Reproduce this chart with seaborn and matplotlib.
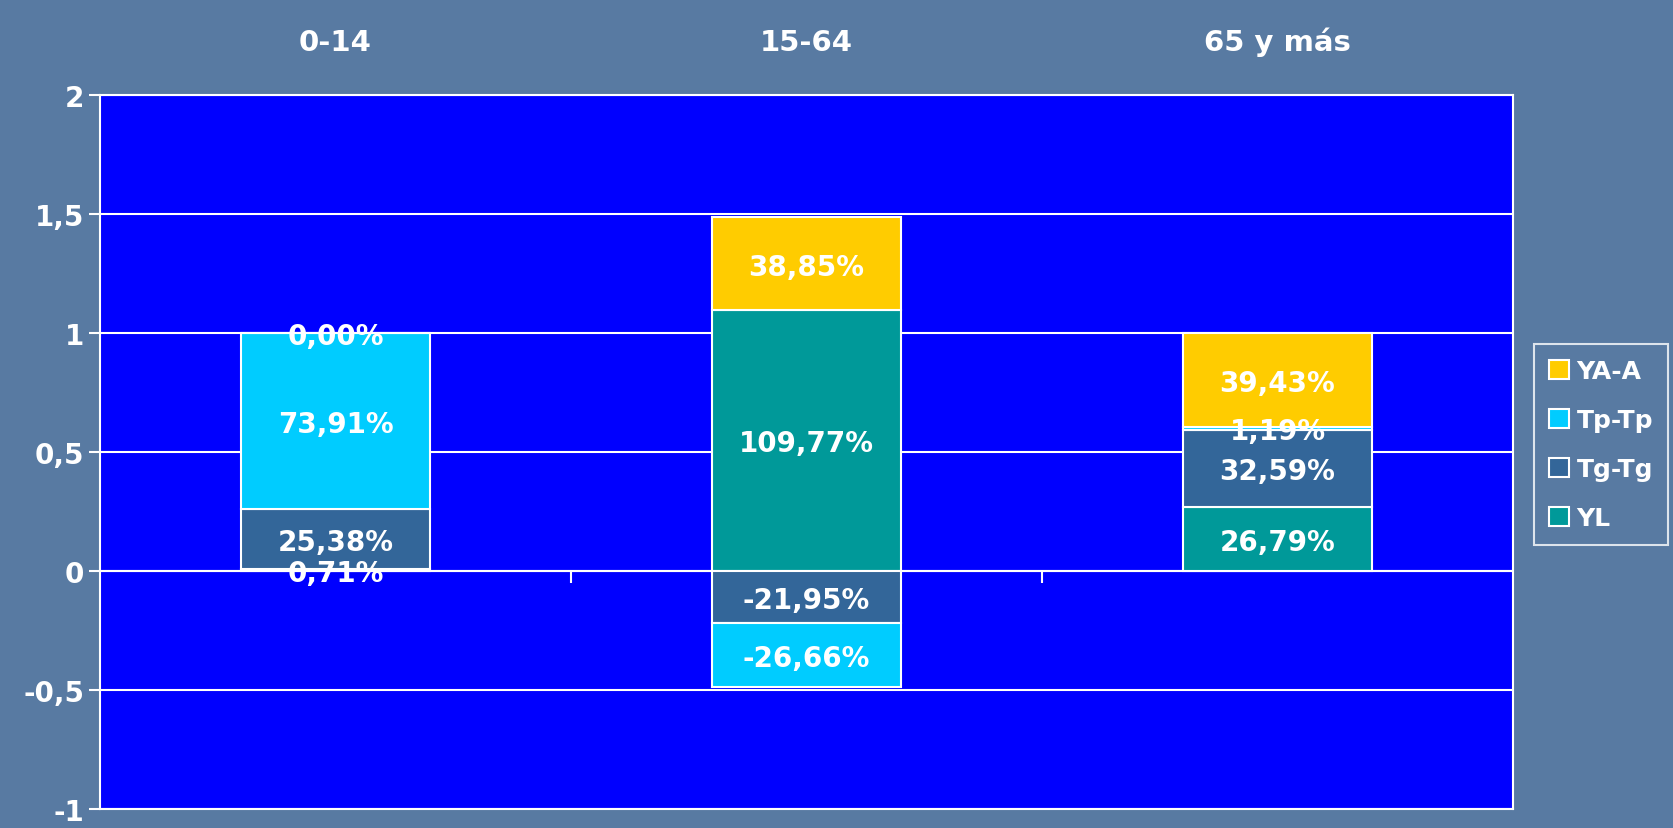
import numpy as np
import pandas as pd
import matplotlib
matplotlib.use('Agg')
import matplotlib.pyplot as plt
import seaborn as sns

categories = ['0-14', '15-64', '65 y más']
series = ['YL', 'Tg-Tg', 'Tp-Tp', 'YA-A']
yl = [0.0071, 1.0977, 0.2679]
tg = [0.2538, -0.2195, 0.3259]
tp = [0.7391, -0.2666, 0.0119]
ya = [0.0000, 0.3885, 0.3943]
colors = {'YL': '#009999', 'Tg-Tg': '#336699', 'Tp-Tp': '#00CCFF', 'YA-A': '#FFCC00'}
yticks = [-1, -0.5, 0, 0.5, 1, 1.5, 2]
ytick_labels = ['-1', '-0,5', '0', '0,5', '1', '1,5', '2']

df = pd.DataFrame({'cat': categories, 'YL': yl, 'Tg-Tg': tg, 'Tp-Tp': tp, 'YA-A': ya})

sns.set_style('white')
plt.rcParams['font.family'] = ['DejaVu Sans']
plt.rcParams['font.weight'] = 'bold'

bg = '#587aa2'
fig = plt.figure(figsize=(16.73, 8.29), dpi=100, facecolor=bg)
ax = fig.add_axes([100 / 1673, 1 - 810 / 829, 1413 / 1673, 714 / 829])
ax.set_facecolor('#0000FF')

pos_bottom = np.zeros(len(categories))
neg_bottom = np.zeros(len(categories))
for s in series:
    vals = df[s].to_numpy()
    bottoms = np.where(vals >= 0, pos_bottom, neg_bottom)
    sns.barplot(x=df['cat'], y=vals, bottom=bottoms, color=colors[s], width=0.4,
                saturation=1, edgecolor='white', linewidth=1.5, ax=ax, zorder=3, label=s)
    for i, v in enumerate(vals):
        txt = f'{v * 100:.2f}%'.replace('.', ',')
        ax.text(i, bottoms[i] + v / 2, txt, ha='center', va='center_baseline', color='white',
                fontsize=20, fontweight='bold', zorder=5)
    pos_bottom = pos_bottom + np.where(vals >= 0, vals, 0)
    neg_bottom = neg_bottom + np.where(vals < 0, vals, 0)

handles, labels = ax.get_legend_handles_labels()
if ax.get_legend() is not None:
    ax.get_legend().remove()

ax.set_ylim(-1, 2)
ax.set_xlim(-0.5, 2.5)
ax.set_yticks(yticks)
ax.set_yticklabels(ytick_labels)
ax.yaxis.grid(True, color='white', linewidth=1.5, zorder=1)
ax.set_axisbelow(True)
ax.axhline(0, color='white', linewidth=1.5, zorder=2)
ax.vlines([0.5, 1.5], -0.05, 0, color='white', linewidth=1.5, zorder=2)
ax.xaxis.tick_top()
ax.tick_params(axis='x', length=0, pad=28, labelsize=21, labelcolor='white')
ax.tick_params(axis='y', length=8, width=1.5, color='white', labelsize=20, labelcolor='white', left=True)
for lab in ax.get_xticklabels() + ax.get_yticklabels():
    lab.set_fontweight('bold')
for sp in ax.spines.values():
    sp.set_color('white')
    sp.set_linewidth(1.5)
ax.set_xlabel('')
ax.set_ylabel('')

order = [labels.index(s) for s in reversed(series)]
leg = fig.legend([handles[i] for i in order], [labels[i] for i in order],
                 loc='upper left', bbox_to_anchor=(1534 / 1673, 1 - 345 / 829),
                 frameon=True, fancybox=False, fontsize=18, labelcolor='white',
                 handlelength=0.8, handleheight=0.8, handletextpad=0.3,
                 labelspacing=1.0, borderpad=0.6, borderaxespad=0)
leg.get_frame().set_facecolor('none')
leg.get_frame().set_edgecolor('white')
leg.get_frame().set_linewidth(1.5)
for t in leg.get_texts():
    t.set_fontweight('bold')

fig.savefig('out.png', dpi=100, facecolor=bg)
